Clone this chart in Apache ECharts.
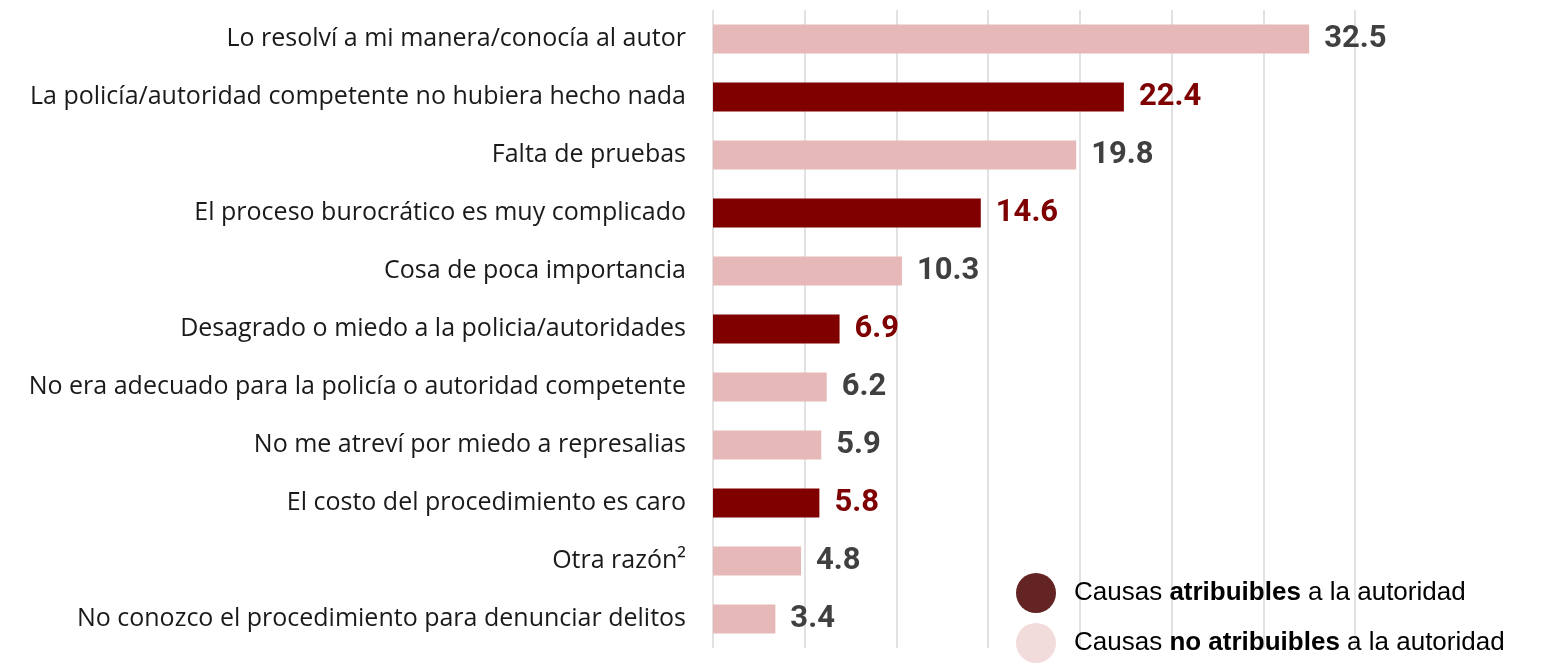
<!DOCTYPE html>
<html>
<head>
<meta charset="utf-8">
<script src="https://cdn.jsdelivr.net/npm/echarts@6/dist/echarts.min.js"></script>
<style>
  html, body { margin: 0; padding: 0; background: #fff; }
  #chart { width: 1556px; height: 667px; }
</style>
</head>
<body>
<div id="chart"></div>
<script>
const categories = [
  'Lo resolví a mi manera/conocía al autor',
  'La policía/autoridad competente no hubiera hecho nada',
  'Falta de pruebas',
  'El proceso burocrático es muy complicado',
  'Cosa de poca importancia',
  'Desagrado o miedo a la policia/autoridades',
  'No era adecuado para la policía o autoridad competente',
  'No me atreví por miedo a represalias',
  'El costo del procedimiento es caro',
  'Otra razón²',
  'No conozco el procedimiento para denunciar delitos'
]
const values = [32.5, 22.4, 19.8, 14.6, 10.3, 6.9, 6.2, 5.9, 5.8, 4.8, 3.4]
// true = causa atribuible a la autoridad
const attributable = [false, true, false, true, false, true, false, false, true, false, false]

const NAME_ATRIB = 'Causas atribuibles a la autoridad'
const NAME_NO = 'Causas no atribuibles a la autoridad'

const atribData = values.map((v, i) => attributable[i] ? v : null)
const noAtribData = values.map((v, i) => attributable[i] ? null : v)

const chart = echarts.init(document.getElementById('chart'))

const valueLabel = color => ({
  show: true,
  position: 'right',
  distance: 15,
  color: color,
  fontFamily: 'Roboto',
  fontWeight: 'bold',
  fontSize: 31,
  formatter: p => p.value.toFixed(1)
})

const option = {
  animation: false,
  grid: { left: 713, right: 201, top: 10, bottom: 19 },
  xAxis: {
    type: 'value',
    min: 0,
    max: 35,
    interval: 5,
    axisLabel: { show: false },
    axisLine: { show: false },
    axisTick: { show: false },
    splitLine: { show: true, lineStyle: { color: '#d9d9d9', width: 1.5 } }
  },
  yAxis: {
    type: 'category',
    inverse: true,
    data: categories,
    axisLine: { show: false },
    axisTick: { show: false },
    axisLabel: {
      margin: 27,
      color: '#1a1a1a',
      fontFamily: 'Open Sans',
      fontSize: 25
    }
  },
  legend: {
    orient: 'vertical',
    left: 1016,
    top: 573,
    height: 140,
    padding: 0,
    icon: 'circle',
    itemWidth: 40,
    itemHeight: 42,
    itemGap: 10,
    data: [
      { name: NAME_ATRIB, itemStyle: { color: '#632423' } },
      { name: NAME_NO, itemStyle: { color: '#f2dcdb' } }
    ],
    formatter: name => name === NAME_ATRIB
      ? 'Causas {b|atribuibles} a la autoridad'
      : 'Causas {b|no atribuibles} a la autoridad',
    textStyle: {
      color: '#000',
      fontFamily: 'Liberation Sans',
      fontSize: 26,
      padding: [0, 0, 0, 13],
      rich: {
        b: { fontFamily: 'Liberation Sans', fontSize: 26, fontWeight: 'bold', color: '#000' }
      }
    }
  },
  series: [
    {
      name: NAME_ATRIB,
      type: 'bar',
      data: atribData,
      barWidth: 29,
      barGap: '-100%',
      itemStyle: { color: '#800000' },
      label: valueLabel('#7f0000')
    },
    {
      name: NAME_NO,
      type: 'bar',
      data: noAtribData,
      barWidth: 29,
      itemStyle: { color: '#e6b8b7' },
      label: valueLabel('#404040')
    }
  ]
}

chart.setOption(option)
</script>
</body>
</html>
